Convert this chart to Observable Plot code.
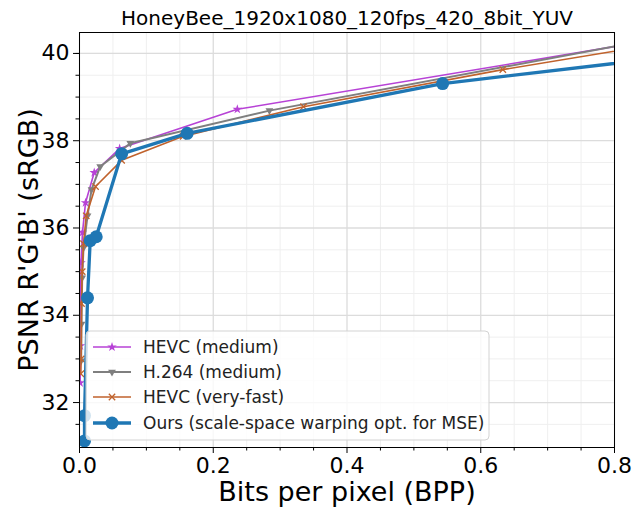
<!DOCTYPE html>
<html><head><meta charset="utf-8">
<script src="https://cdn.jsdelivr.net/npm/d3@7"></script>
<script src="https://cdn.jsdelivr.net/npm/@observablehq/plot@0.6"></script>
<style>
body{margin:0;background:#fff;}
#wrap{position:relative;width:634px;height:512px;font-family:"DejaVu Sans",sans-serif;}
</style>
</head><body>
<div id="wrap"></div>
<script>
// ---- data ----
const title = "HoneyBee_1920x1080_120fps_420_8bit_YUV";
const xLabel = "Bits per pixel (BPP)";
const yLabel = "PSNR R'G'B' (sRGB)";
const seriesNames = ["HEVC (medium)", "H.264 (medium)", "HEVC (very-fast)", "Ours (scale-space warping opt. for MSE)"];

const hevcMedBpp  = [0.001, 0.0013, 0.0017, 0.0022, 0.0045, 0.009, 0.022, 0.060, 0.236, 0.95];
const hevcMedPsnr = [32.45, 33.30, 34.40, 35.20, 35.90, 36.58, 37.27, 37.82, 38.72, 40.54];

const h264Bpp  = [0.0025, 0.003, 0.004, 0.006, 0.012, 0.018, 0.031, 0.076, 0.284, 0.95];
const h264Psnr = [32.96, 33.80, 34.86, 35.55, 36.28, 36.88, 37.41, 37.94, 38.69, 40.59];

const hevcFastBpp  = [0.002, 0.0025, 0.003, 0.004, 0.006, 0.010, 0.024, 0.063, 0.155, 0.335, 0.633, 0.95];
const hevcFastPsnr = [32.66, 33.00, 34.27, 35.00, 35.64, 36.28, 36.95, 37.55, 38.10, 38.78, 39.63, 40.43];

const oursBpp  = [0.0075, 0.0075, 0.012, 0.016, 0.025, 0.063, 0.161, 0.543, 0.95];
const oursPsnr = [31.12, 31.70, 34.40, 35.71, 35.80, 37.70, 38.17, 39.31, 40.04];

const xTicks = [0, 0.2, 0.4, 0.6, 0.8];
const xMinor = [0.05, 0.1, 0.15, 0.25, 0.3, 0.35, 0.45, 0.5, 0.55, 0.65, 0.7, 0.75];
const yTicks = [32, 34, 36, 38, 40];
const yMinor = [31.5, 32.5, 33, 33.5, 34.5, 35, 35.5, 36.5, 37, 37.5, 38.5, 39, 39.5, 40];

// ---- styles ----
const colors = ["#b742d6", "#7f7f7f", "#c0622c", "#1f77b4"];
const triDown = {draw(ctx, size){ const r = Math.sqrt(size/Math.PI)*1.25; ctx.moveTo(0, r); ctx.lineTo(r*0.866, -r*0.5); ctx.lineTo(-r*0.866, -r*0.5); ctx.closePath(); }};

const toRows = (bpp, psnr) => bpp.map((b, i) => ({bpp: b, psnr: psnr[i]}));
const s0 = toRows(hevcMedBpp, hevcMedPsnr);
const s1 = toRows(h264Bpp, h264Psnr);
const s2 = toRows(hevcFastBpp, hevcFastPsnr);
const s3 = toRows(oursBpp, oursPsnr);

const chart = Plot.plot({
  width: 634, height: 512,
  marginLeft: 79, marginRight: 20, marginTop: 32, marginBottom: 65,
  style: {fontFamily: "DejaVu Sans", background: "white", color: "black"},
  x: {domain: [0, 0.8]},
  y: {domain: [30.97, 40.48]},
  marks: [
    Plot.gridX(xMinor, {stroke: "#efefef", strokeOpacity: 1, strokeWidth: 1}),
    Plot.gridY(yMinor, {stroke: "#efefef", strokeOpacity: 1, strokeWidth: 1}),
    Plot.gridX(xTicks, {stroke: "#dcdcdc", strokeOpacity: 1, strokeWidth: 1.3}),
    Plot.gridY(yTicks, {stroke: "#dcdcdc", strokeOpacity: 1, strokeWidth: 1.3}),

    Plot.line(s0, {x: "bpp", y: "psnr", stroke: colors[0], strokeWidth: 1.6, clip: true}),
    Plot.dot(s0, {x: "bpp", y: "psnr", fill: colors[0], stroke: "none", symbol: "star", r: 3, clip: true}),
    Plot.line(s1, {x: "bpp", y: "psnr", stroke: colors[1], strokeWidth: 2, clip: true}),
    Plot.dot(s1, {x: "bpp", y: "psnr", fill: colors[1], stroke: "none", symbol: triDown, r: 3.6, clip: true}),
    Plot.line(s2, {x: "bpp", y: "psnr", stroke: colors[2], strokeWidth: 1.6, clip: true}),
    Plot.dot(s2, {x: "bpp", y: "psnr", stroke: colors[2], symbol: "times", r: 3, strokeWidth: 1.3, clip: true}),
    Plot.line(s3, {x: "bpp", y: "psnr", stroke: colors[3], strokeWidth: 3.3, clip: true}),
    Plot.dot(s3, {x: "bpp", y: "psnr", fill: colors[3], stroke: "none", r: 6.5, clip: true}),

    Plot.frame({stroke: "black", strokeWidth: 1}),
    Plot.axisX(xMinor, {tickSize: 3.5, text: null, label: null}),
    Plot.axisY(yMinor, {tickSize: 3.5, text: null, label: null}),
    Plot.axisX(xTicks, {tickSize: 6, tickPadding: 4, fontSize: 22, tickFormat: d3.format(".1f"), label: null}),
    Plot.axisY(yTicks, {tickSize: 6, tickPadding: 4, fontSize: 22, tickFormat: d => String(d), label: null}),

    Plot.text([title], {text: d => d, frameAnchor: "top", lineAnchor: "middle", dy: -14, fontSize: 20, fill: "black"}),
    Plot.text([xLabel], {text: d => d, frameAnchor: "bottom", lineAnchor: "middle", textAnchor: "middle", dy: 45, fontSize: 27, fill: "black"}),
    Plot.text([yLabel], {text: d => d, frameAnchor: "left", lineAnchor: "middle", textAnchor: "middle", dx: -50, rotate: -90, fontSize: 27, fill: "black"})
  ]
});
const wrap = document.getElementById("wrap");
wrap.appendChild(chart);

// ---- legend ----
const ns = "http://www.w3.org/2000/svg";
const leg = document.createElementNS(ns, "svg");
leg.setAttribute("width", 406); leg.setAttribute("height", 112);
leg.style.position = "absolute"; leg.style.left = "85px"; leg.style.top = "330px";
const box = document.createElementNS(ns, "rect");
Object.entries({x: 1, y: 1, width: 403, height: 109, rx: 4, fill: "white", "fill-opacity": 0.8, stroke: "#d3d3d3"}).forEach(([k, v]) => box.setAttribute(k, v));
leg.appendChild(box);
const rowY = [17, 42, 67, 93];
const symDefs = [
  {type: d3.symbolStar, r: 3, fill: colors[0], stroke: "none", lw: 1.6},
  {type: triDown, r: 3.6, fill: colors[1], stroke: "none", lw: 2},
  {type: d3.symbolTimes, r: 3, fill: "none", stroke: colors[2], lw: 1.6},
  {type: d3.symbolCircle, r: 6.5, fill: colors[3], stroke: "none", lw: 3.3}
];
seriesNames.forEach((name, i) => {
  const y = rowY[i];
  const ln = document.createElementNS(ns, "line");
  Object.entries({x1: 8, x2: 46, y1: y, y2: y, stroke: colors[i], "stroke-width": symDefs[i].lw}).forEach(([k, v]) => ln.setAttribute(k, v));
  leg.appendChild(ln);
  const p = document.createElementNS(ns, "path");
  p.setAttribute("d", d3.symbol(symDefs[i].type, Math.PI * symDefs[i].r * symDefs[i].r)());
  p.setAttribute("transform", `translate(27,${y})`);
  p.setAttribute("fill", symDefs[i].fill);
  p.setAttribute("stroke", symDefs[i].stroke);
  p.setAttribute("stroke-width", 1.3);
  leg.appendChild(p);
  const t = document.createElementNS(ns, "text");
  t.setAttribute("x", 58); t.setAttribute("y", y);
  t.setAttribute("dy", "0.35em");
  t.setAttribute("font-size", 17);
  t.setAttribute("font-family", "DejaVu Sans");
  t.setAttribute("fill", "#222");
  t.textContent = name;
  leg.appendChild(t);
});
wrap.appendChild(leg);
</script>
</body></html>
